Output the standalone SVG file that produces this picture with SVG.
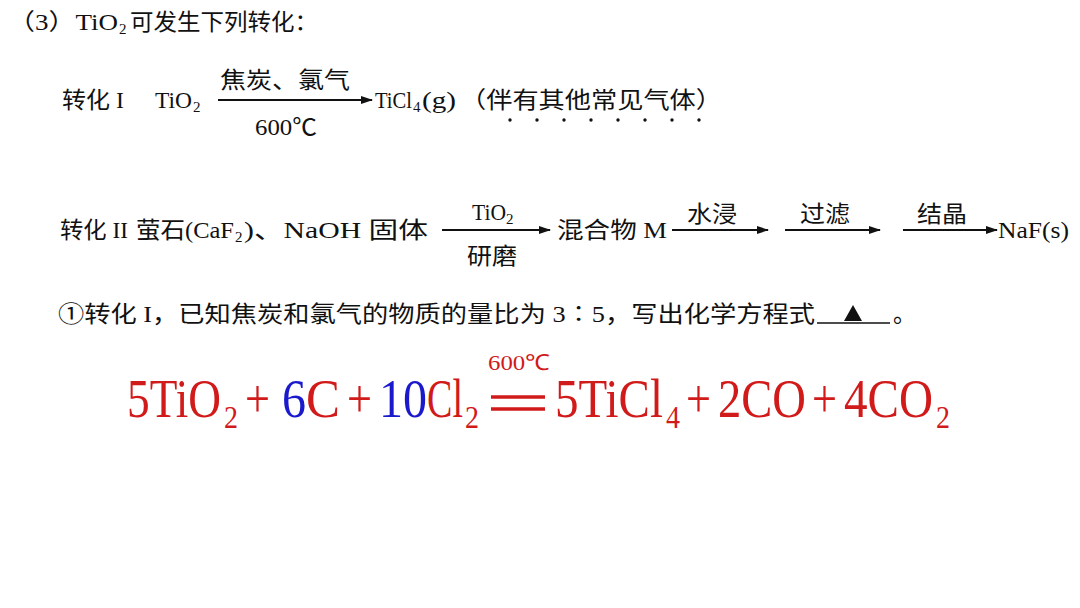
<svg xmlns="http://www.w3.org/2000/svg" width="1080" height="608" viewBox="0 0 1080 608">
<defs>
<style>
.t{font-family:"Liberation Serif","Noto Sans CJK SC",serif;font-size:23px;fill:#111}
.s{font-family:"Liberation Serif",serif;font-size:15px;fill:#111}
.e{font-family:"Liberation Serif",serif;font-size:54px;fill:#d11a1a}
.es{font-family:"Liberation Serif",serif;font-size:32px;fill:#d11a1a}
.b{fill:#1a1acc}
.ar{stroke:#111;stroke-width:2.2;fill:none;marker-end:url(#ah)}
</style>
<marker id="ah" markerWidth="12" markerHeight="8" refX="11" refY="4" orient="auto" markerUnits="userSpaceOnUse"><path d="M0,0 L12,4 L0,8 Z" fill="#111"/></marker>
</defs>
<rect width="1080" height="608" fill="#fff"/>
<g id="title">
<text class="t" x="8" y="30" textLength="110" lengthAdjust="spacingAndGlyphs">（3）TiO</text>
<text class="s" x="119" y="34">2</text>
<text class="t" x="130" y="30" textLength="188" lengthAdjust="spacingAndGlyphs">可发生下列转化：</text>
</g>
<g id="conv1">
<text class="t" x="62" y="108" textLength="62" lengthAdjust="spacingAndGlyphs">转化 I</text>
<text class="t" x="155" y="108" textLength="37" lengthAdjust="spacingAndGlyphs">TiO</text>
<text class="s" x="193" y="112">2</text>
<text class="t" x="220" y="88" textLength="130" lengthAdjust="spacingAndGlyphs">焦炭、氯气</text>
<text class="t" x="255" y="135" textLength="62" lengthAdjust="spacingAndGlyphs">600℃</text>
<text class="t" x="375" y="108" textLength="37" lengthAdjust="spacingAndGlyphs">TiCl</text>
<text class="s" x="413" y="112">4</text>
<text class="t" x="422" y="108" textLength="34" lengthAdjust="spacingAndGlyphs">(g)</text>
<text class="t" x="460" y="108" textLength="262" lengthAdjust="spacingAndGlyphs">（伴有其他常见气体）</text>
<g fill="#111"><circle cx="510" cy="120" r="1.7"/><circle cx="537" cy="120" r="1.7"/><circle cx="564" cy="120" r="1.7"/><circle cx="591" cy="120" r="1.7"/><circle cx="618" cy="120" r="1.7"/><circle cx="645" cy="120" r="1.7"/><circle cx="672" cy="120" r="1.7"/><circle cx="699" cy="120" r="1.7"/></g>
</g>
<g id="conv2">
<text class="t" x="60" y="238" textLength="68" lengthAdjust="spacingAndGlyphs">转化 II</text>
<text class="t" x="136" y="238" textLength="98" lengthAdjust="spacingAndGlyphs">萤石(CaF</text>
<text class="s" x="235" y="242">2</text>
<text class="t" x="244" y="238" textLength="184" lengthAdjust="spacingAndGlyphs">)、NaOH 固体</text>
<text class="t" x="472" y="220" textLength="34" lengthAdjust="spacingAndGlyphs">TiO</text>
<text class="s" x="506" y="224">2</text>
<text class="t" x="467" y="264" textLength="50" lengthAdjust="spacingAndGlyphs">研磨</text>
<text class="t" x="557" y="238" textLength="110" lengthAdjust="spacingAndGlyphs">混合物 M</text>
<text class="t" x="687" y="222" textLength="50" lengthAdjust="spacingAndGlyphs">水浸</text>
<text class="t" x="800" y="222" textLength="50" lengthAdjust="spacingAndGlyphs">过滤</text>
<text class="t" x="917" y="222" textLength="50" lengthAdjust="spacingAndGlyphs">结晶</text>
<text class="t" x="998" y="238" textLength="71" lengthAdjust="spacingAndGlyphs">NaF(s)</text>
</g>
<g id="connectors">
<line class="ar" x1="218" y1="100" x2="372" y2="100"/>
<line class="ar" x1="442" y1="230" x2="550" y2="230"/>
<line class="ar" x1="672" y1="230" x2="768" y2="230"/>
<line class="ar" x1="785" y1="230" x2="880" y2="230"/>
<line class="ar" x1="903" y1="230" x2="997" y2="230"/>
</g>
<g id="question">
<text class="t" x="58" y="322" textLength="757" lengthAdjust="spacingAndGlyphs">①转化 I，已知焦炭和氯气的物质的量比为 3∶5，写出化学方程式</text>
<line x1="817" y1="323" x2="890" y2="323" stroke="#111" stroke-width="1.5"/>
<path d="M853,305 L862,321 L844,321 Z" fill="#111"/>
<text class="t" x="893" y="322">。</text>
</g>
<g id="equation">
<text class="es" x="488" y="370" style="font-size:22px" textLength="62" lengthAdjust="spacingAndGlyphs">600℃</text>
<text class="e" x="127" y="417" textLength="94" lengthAdjust="spacingAndGlyphs">5TiO</text><text class="es" x="224" y="428" textLength="14" lengthAdjust="spacingAndGlyphs">2</text>
<text class="e" x="245" y="417" textLength="25" lengthAdjust="spacingAndGlyphs">+</text>
<text class="e b" x="282" y="417" textLength="24" lengthAdjust="spacingAndGlyphs">6</text><text class="e" x="306" y="417" textLength="34" lengthAdjust="spacingAndGlyphs">C</text>
<text class="e" x="347" y="417" textLength="25" lengthAdjust="spacingAndGlyphs">+</text>
<text class="e b" x="379" y="417" textLength="48" lengthAdjust="spacingAndGlyphs">10</text><text class="e" x="427" y="417" textLength="36" lengthAdjust="spacingAndGlyphs">Cl</text><text class="es" x="465" y="428" textLength="14" lengthAdjust="spacingAndGlyphs">2</text>
<g stroke="#d11a1a" stroke-width="3.5"><line x1="491" y1="397" x2="545" y2="397"/><line x1="491" y1="409" x2="545" y2="409"/></g>
<text class="e" x="555" y="417" textLength="108" lengthAdjust="spacingAndGlyphs">5TiCl</text><text class="es" x="666" y="428" textLength="14" lengthAdjust="spacingAndGlyphs">4</text>
<text class="e" x="686" y="417" textLength="25" lengthAdjust="spacingAndGlyphs">+</text>
<text class="e" x="718" y="417" textLength="88" lengthAdjust="spacingAndGlyphs">2CO</text>
<text class="e" x="812" y="417" textLength="25" lengthAdjust="spacingAndGlyphs">+</text>
<text class="e" x="844" y="417" textLength="89" lengthAdjust="spacingAndGlyphs">4CO</text><text class="es" x="936" y="428" textLength="14" lengthAdjust="spacingAndGlyphs">2</text>
</g>
</svg>
